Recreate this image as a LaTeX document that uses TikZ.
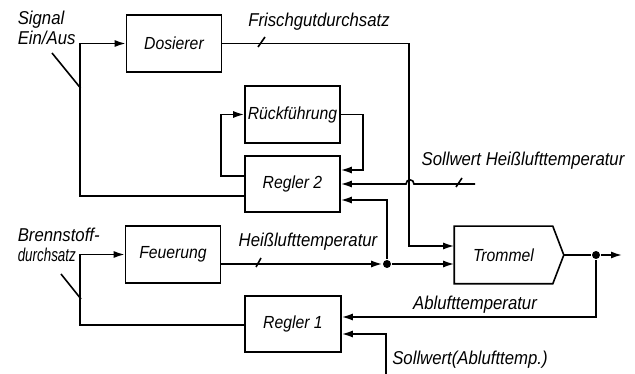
\documentclass[tikz,border=0pt]{standalone}
\usepackage{fontspec}
\newfontfamily\dinfont{Liberation Sans}[FakeStretch=0.9]
\newcommand\boxfont{\dinfont\itshape\fontsize{17.5}{20}\selectfont}
\newcommand\lblfont{\dinfont\itshape\fontsize{18.6}{20}\selectfont}
\usetikzlibrary{arrows.meta,calc}
\begin{document}
\begin{tikzpicture}[x=1pt,y=-1pt,
  line width=1.6pt,
  blk/.style={draw, minimum width=95pt, minimum height=57pt, inner sep=0pt, font=\boxfont},
  lbl/.style={font=\lblfont, inner sep=0pt},
  arr/.style={-{Latex[length=11pt,width=7pt]}},
  dot/.style={circle, fill, inner sep=0pt, minimum size=8pt}]
\useasboundingbox (0,0) rectangle (635,374);

% blocks
\node[blk] (dos) at (174,43.5) {Dosierer};
\node[blk] (rueck) at (292.5,114.5) {Rückführung};
\node[blk, minimum height=56pt] (r2) at (292.5,184) {Regler 2};
\node[blk] (feu) at (173,254.5) {Feuerung};
\node[blk, minimum width=96pt, minimum height=56pt] (r1) at (293,324) {Regler 1};
\node[inner sep=0pt, font=\boxfont, minimum width=97pt, minimum height=56pt] (tr) at (503.5,255) {Trommel};
\draw (tr.north west) -- (tr.north east) -- ($(tr.east)+(11,0)$) coordinate (trtip)
  -- (tr.south east) -- (tr.south west) -- cycle;

% Signal Ein/Aus
\draw[arr] ($(r2.west)+(0,12)$) -| ($(dos.west)+(-45.5,0)$) -- (dos.west);
% Frischgutdurchsatz
\draw[arr] (dos.east) -| ($(tr.west)+(-45,-9)$) -- ($(tr.west)+(0,-9)$);
% Rueckfuehrung loop
\draw[arr] ($(r2.west)+(0,-8)$) -| ($(rueck.west)+(-23,0)$) -- (rueck.west);
\draw[arr] (rueck.east) -| ($(r2.east)+(22,-14)$) -- ($(r2.east)+(0,-14)$);
% Sollwert Heisslufttemperatur with bridge
\coordinate (shl) at (475,184);
\draw[arr] (shl) -- (414,184) .. controls (414,178.5) and (406,178.5) .. (406,184) -- (r2.east);
% Heisslufttemperatur
\node[dot] (j1) at (387,264) {};
\draw[arr] ($(feu.east)+(0,9.5)$) -- (j1);
\draw[arr] (j1) -- ($(tr.west)+(0,9)$);
\draw[arr] (j1) |- ($(r2.east)+(0,16)$);
% Trommel output
\node[dot] (j2) at (596,255) {};
\coordinate (out) at (622,255);
\draw (trtip) -- (j2);
\draw[arr] (j2) -- (out);
\draw[arr] (j2) |- ($(r1.east)+(0,-7)$);
% Sollwert Ablufttemp
\coordinate (sab) at (386,374);
\draw[arr] (sab) |- ($(r1.east)+(0,10)$);
% Regler 1 -> Feuerung
\draw[arr] ($(r1.west)+(0,1)$) -| ($(feu.west)+(-45,0)$) -- (feu.west);

% labels
\node[lbl, align=left, anchor=north west] (lsig) at (17,10) {Signal\\Ein/Aus};
\draw (52,53) -- (80.5,88);
\node[lbl] (lfri) at (319,22) {Frischgutdurchsatz};
\draw (258,47) -- (265,37);
\node[lbl] (lshl) at (523,161) {Sollwert Heißlufttemperatur};
\draw (456,187) -- (462,178);
\node[lbl, align=left, anchor=north west] (lbr) at (17,227) {Brennstoff-\\\scalebox{0.8}[1]{durchsatz}};
\draw (61,274) -- (81,299);
\node[lbl] (lhl) at (308,242) {Heißlufttemperatur};
\draw (256,267) -- (261,258);
\node[lbl] (lab) at (475,305) {Ablufttemperatur};
\node[lbl] (lsab) at (470,360) {Sollwert(Ablufttemp.)};
\end{tikzpicture}
\end{document}
